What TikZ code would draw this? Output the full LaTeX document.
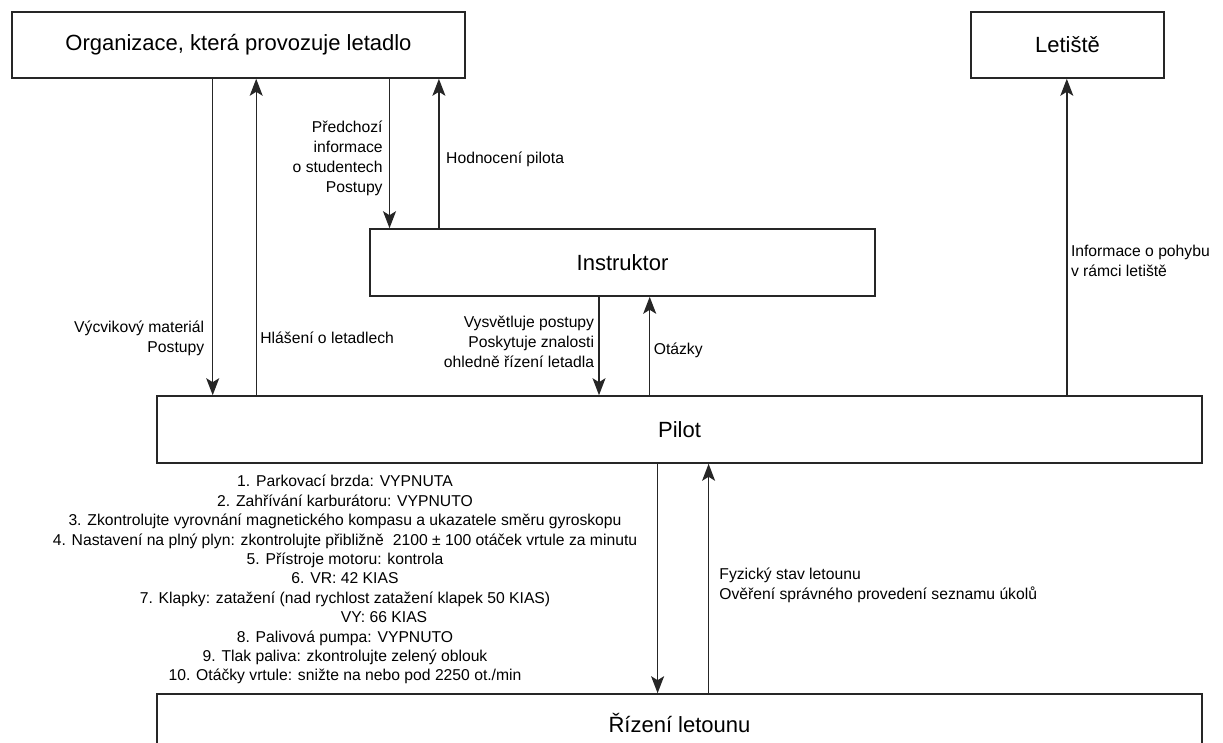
\documentclass[tikz,border=0pt]{standalone}
\usepackage{fontspec}
\setmainfont{Liberation Sans}
\usetikzlibrary{arrows.meta}
\begin{document}
\begin{tikzpicture}[x=1pt,y=-1pt,
  block/.style={draw=black!85, line width=1.6pt, fill=white, inner sep=0pt,
    font=\fontsize{22}{26}\selectfont},
  flow/.style={draw=black!85, line width=1.4pt,
    -{Stealth[length=17pt,width=13pt,inset=4pt]}},
  lbl/.style={inner sep=0pt, font=\fontsize{15.7}{20}\selectfont},
]
\useasboundingbox (0,0) rectangle (1223,743);
\clip (0,0) rectangle (1223,743);

% boxes
\node[block, minimum width=453pt, minimum height=66pt] (org) at (238.5,45) {Organizace, která provozuje letadlo};
\node[block, minimum width=193pt, minimum height=66pt] (letiste) at (1067.5,45) {Letiště};
\node[block, minimum width=505pt, minimum height=67pt] (instr) at (622.5,262.5) {Instruktor};
\node[block, minimum width=1045pt, minimum height=67pt] (pilot) at (679.5,429.5) {Pilot};
\node[block, minimum width=1045pt, minimum height=58pt] (rizeni) at (679.5,723) {Řízení letounu};

% x positions of the vertical connectors
\coordinate (a1) at (212.7,0);
\coordinate (a2) at (256.2,0);
\coordinate (a3) at (389.5,0);
\coordinate (a4) at (438.9,0);
\coordinate (a5) at (599,0);
\coordinate (a6) at (649.7,0);
\coordinate (a7) at (1066.8,0);
\coordinate (a8) at (657.6,0);
\coordinate (a9) at (708.6,0);

% connectors
\draw[flow] (org.south -| a1) -- (pilot.north -| a1);
\draw[flow] (pilot.north -| a2) -- (org.south -| a2);
\draw[flow] (org.south -| a3) -- (instr.north -| a3);
\draw[flow] (instr.north -| a4) -- (org.south -| a4);
\draw[flow] (instr.south -| a5) -- (pilot.north -| a5);
\draw[flow] (pilot.north -| a6) -- (instr.south -| a6);
\draw[flow] (pilot.north -| a7) -- (letiste.south -| a7);
\draw[flow] (pilot.south -| a8) -- (rizeni.north -| a8);
\draw[flow] (rizeni.north -| a9) -- (pilot.south -| a9);

% connector labels
\node[lbl, anchor=east, align=right] (l1) at (204.4,338) {Výcvikový materiál\\Postupy};
\node[lbl, anchor=west] (l2) at (260.2,337.3) {Hlášení o letadlech};
\node[lbl, anchor=east, align=right] (l3) at (382.8,158.3) {Předchozí\\informace\\o studentech\\Postupy};
\node[lbl, anchor=west] (l4) at (446,159.3) {Hodnocení pilota};
\node[lbl, anchor=east, align=right] (l5) at (594.3,342.3) {Vysvětluje postupy\\Poskytuje znalosti\\ohledně řízení letadla};
\node[lbl, anchor=west] (l6) at (653.6,350) {Otázky};
\node[lbl, anchor=west, align=left] (l7) at (1070.8,261) {Informace o pohybu\\v rámci letiště};
\node[lbl, align=center, font=\fontsize{15.7}{19.4}\selectfont] (l8) at (345,579.7) {%
1. Parkovací brzda: VYPNUTA\\
2. Zahřívání karburátoru: VYPNUTO\\
3. Zkontrolujte vyrovnání magnetického kompasu a ukazatele směru gyroskopu\\
4. Nastavení na plný plyn: zkontrolujte přibližně\hspace{0.3em} 2100 ± 100 otáček vrtule za minutu\\
5. Přístroje motoru: kontrola\\
6. VR: 42 KIAS\\
7. Klapky: zatažení (nad rychlost zatažení klapek 50 KIAS)\\
\hspace*{78pt}VY: 66 KIAS\\
8. Palivová pumpa: VYPNUTO\\
9. Tlak paliva: zkontrolujte zelený oblouk\\
10. Otáčky vrtule: snižte na nebo pod 2250 ot./min};
\node[lbl, anchor=west, align=left] (l9) at (719.2,585.7) {Fyzický stav letounu\\Ověření správného provedení seznamu úkolů};
\end{tikzpicture}
\end{document}
